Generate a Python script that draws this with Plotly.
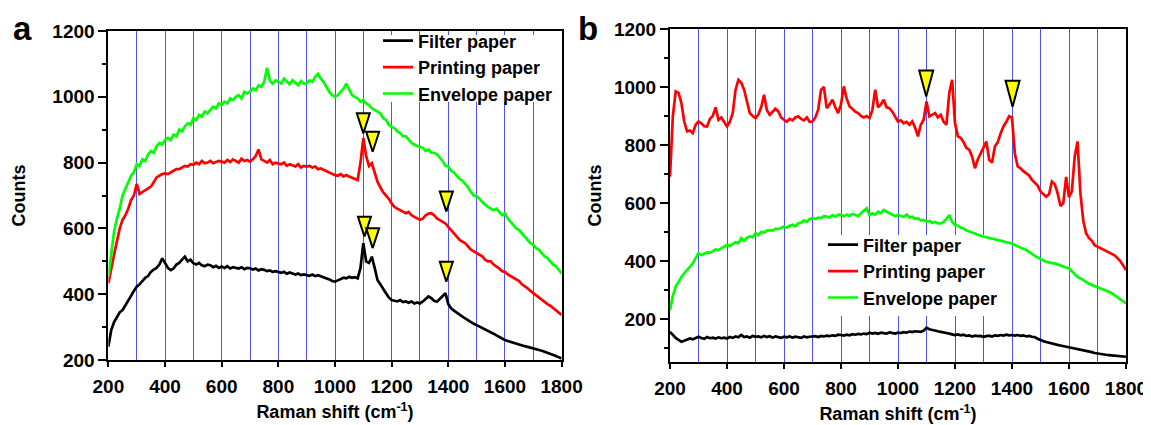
import plotly.graph_objects as go

# The page body has an 8 px margin, so the figure is drawn 8 px in and down.
PAGE_OFF = 8
W, H = 1151 - PAGE_OFF, 425 - PAGE_OFF

# Shared sampling grid (Raman shift, cm^-1) for all spectra
shift = [200,
         210, 220, 230, 240, 250, 260, 270, 280, 290, 300,
         310, 320, 330, 340, 350, 360, 370, 380, 390, 400,
         410, 420, 430, 440, 450, 460, 470, 480, 490, 500,
         510, 520, 530, 540, 550, 560, 570, 580, 590, 600,
         610, 620, 630, 640, 650, 660, 670, 680, 690, 700,
         710, 720, 730, 740, 750, 760, 770, 780, 790, 800,
         810, 820, 830, 840, 850, 860, 870, 880, 890, 900,
         910, 920, 930, 940, 950, 960, 970, 980, 990, 1000,
         1010, 1020, 1030, 1040, 1050, 1060, 1070, 1080, 1090, 1100,
         1110, 1120, 1130, 1140, 1150, 1160, 1170, 1180, 1190, 1200,
         1210, 1220, 1230, 1240, 1250, 1260, 1270, 1280, 1290, 1300,
         1310, 1320, 1330, 1340, 1350, 1360, 1370, 1380, 1390, 1400,
         1410, 1420, 1430, 1440, 1450, 1460, 1470, 1480, 1490, 1500,
         1510, 1520, 1530, 1540, 1550, 1560, 1570, 1580, 1590, 1600,
         1610, 1620, 1630, 1640, 1650, 1660, 1670, 1680, 1690, 1700,
         1710, 1720, 1730, 1740, 1750, 1760, 1770, 1780, 1790, 1800]

# ---------------- Panel a: counts ----------------
a_filter = [241,
            291, 315, 330, 345, 352, 365, 380, 395, 410, 423,
            430, 440, 450, 455, 468, 475, 480, 490, 509, 495,
            480, 473, 478, 490, 495, 505, 514, 500, 505, 494,
            490, 495, 488, 485, 490, 488, 482, 486, 480, 484,
            480, 485, 478, 482, 480, 478, 482, 476, 480, 479,
            475, 478, 472, 476, 474, 470, 472, 468, 470, 468,
            465, 468, 462, 466, 462, 460, 463, 458, 460, 458,
            456, 460, 455, 458, 455, 450, 448, 445, 440, 438,
            442, 445, 450, 448, 453, 450, 452, 448, 480, 555,
            500, 495, 514, 480, 443, 430, 415, 403, 390, 382,
            380, 378, 382, 376, 378, 374, 378, 372, 375, 372,
            378, 385, 393, 388, 380, 377, 385, 392, 403, 370,
            357, 350, 345, 338, 332, 326, 320, 315, 310, 306,
            302, 298, 292, 288, 285, 280, 275, 270, 266, 261,
            258, 255, 252, 250, 248, 245, 242, 240, 238, 236,
            233, 230, 228, 225, 222, 220, 216, 212, 208, 205]

a_print = [433,
           480, 520, 560, 600, 626, 640, 660, 686, 700, 735,
           705, 710, 715, 720, 727, 740, 755, 760, 765, 767,
           765, 770, 775, 780, 780, 785, 790, 788, 795, 793,
           800, 795, 805, 798, 800, 805, 798, 802, 805, 803,
           800, 808, 802, 810, 805, 800, 812, 805, 808, 803,
           810, 820, 840, 810, 805, 800, 808, 795, 800, 798,
           795, 800, 790, 795, 792, 788, 795, 785, 790, 788,
           790, 785, 788, 780, 782, 778, 775, 770, 765, 762,
           760, 765, 758, 762, 758, 755, 750, 747, 800, 874,
           820, 790, 798, 770, 742, 725, 710, 700, 690, 676,
           665, 660, 655, 650, 646, 650, 640, 635, 630, 626,
           630, 640, 645, 646, 640, 630, 625, 620, 615, 605,
           595, 585, 575, 565, 560, 555, 545, 535, 530, 524,
           520, 515, 505, 500, 500, 490, 485, 478, 470, 468,
           460, 455, 450, 445, 440, 430, 425, 418, 410, 403,
           398, 390, 385, 378, 370, 365, 358, 350, 345, 337]

a_env = [453,
         520, 590, 630, 660, 700, 720, 745, 760, 770, 795,
         790, 810, 805, 825, 835, 830, 850, 860, 855, 869,
         875, 868, 885, 880, 900, 895, 910, 920, 915, 935,
         930, 945, 940, 955, 950, 960, 970, 965, 980, 975,
         985, 980, 995, 990, 1000, 1005, 995, 1015, 1010, 1016,
         1025, 1020, 1035, 1030, 1045, 1088, 1050, 1040, 1050, 1046,
         1040, 1055, 1045, 1038, 1050, 1042, 1035, 1048, 1040, 1041,
         1050, 1045, 1060, 1070, 1055, 1045, 1030, 1015, 1005, 1000,
         1005, 1015, 1025, 1040, 1020, 1005, 1000, 995, 985, 990,
         980, 975, 965, 960, 955, 950, 935, 930, 915, 908,
         905, 895, 890, 880, 880, 870, 860, 855, 850, 848,
         845, 835, 840, 830, 830, 825, 815, 805, 790, 788,
         775, 770, 760, 750, 745, 735, 725, 710, 700, 697,
         690, 680, 672, 665, 660, 655, 660, 650, 640, 646,
         630, 620, 610, 600, 595, 585, 575, 565, 555, 550,
         540, 535, 525, 515, 510, 500, 490, 485, 475, 463]

# marker tips (peak indicators)
a_tri_x = [1100, 1133, 1393, 1104, 1133, 1393]
a_tri_y = [889, 833, 651, 575, 540, 438]

# ---------------- Panel b: counts ----------------
b_filter = [156,
            145, 135, 128, 122, 125, 130, 133, 130, 136, 139,
            135, 132, 138, 134, 136, 133, 137, 134, 136, 133,
            138, 135, 140, 137, 145, 138, 140, 136, 142, 139,
            140, 137, 142, 138, 141, 136, 140, 138, 135, 139,
            137, 140, 136, 139, 138, 135, 140, 137, 139, 139,
            141, 138, 142, 140, 143, 141, 144, 142, 146, 145,
            143, 146, 144, 148, 146, 149, 147, 150, 148, 153,
            150, 152, 149, 153, 151, 150, 154, 152, 150, 153,
            152, 155, 153, 157, 155, 158, 156, 156, 160, 170,
            165, 162, 160, 158, 156, 155, 152, 150, 148, 145,
            147, 144, 146, 142, 144, 140, 143, 141, 142, 139,
            141, 143, 140, 144, 142, 145, 143, 146, 144, 145,
            143, 145, 142, 144, 140, 142, 139, 138, 132, 127,
            124, 121, 118, 116, 113, 111, 109, 107, 106, 104,
            101, 99, 96, 94, 92, 90, 88, 86, 83, 81,
            80, 78, 77, 76, 75, 74, 73, 72, 71, 70]

b_print = [691,
           900, 985, 980, 945, 880, 847, 850, 841, 870, 881,
           875, 865, 864, 890, 900, 930, 887, 895, 880, 864,
           880, 910, 990, 1025, 1015, 991, 950, 910, 900, 893,
           905, 930, 973, 920, 904, 915, 925, 916, 895, 887,
           880, 890, 885, 895, 899, 890, 885, 895, 880, 881,
           895, 922, 990, 1000, 927, 940, 956, 930, 910, 940,
           1002, 960, 933, 925, 915, 910, 900, 895, 900, 893,
           920, 991, 930, 940, 956, 930, 927, 915, 900, 881,
           885, 875, 880, 870, 881, 860, 830, 870, 887, 950,
           899, 905, 910, 895, 904, 880, 870, 980, 1025, 876,
           830, 825, 810, 790, 784, 760, 720, 750, 772, 790,
           812, 749, 740, 795, 810, 840, 864, 880, 899, 895,
           770, 726, 720, 710, 703, 695, 680, 668, 660, 640,
           630, 622, 630, 674, 665, 634, 590, 600, 690, 620,
           640, 760, 812, 634, 540, 496, 480, 470, 455, 450,
           445, 440, 435, 430, 427, 420, 410, 400, 385, 369]

b_env = [231,
         280, 312, 330, 345, 358, 370, 380, 392, 410, 427,
         420, 425, 430, 428, 433, 440, 438, 445, 450, 456,
         452, 460, 465, 462, 479, 470, 480, 485, 482, 496,
         490, 500, 498, 505, 507, 505, 512, 510, 515, 519,
         515, 522, 525, 520, 530, 532, 540, 535, 545, 548,
         545, 550, 548, 555, 553, 550, 558, 552, 560, 559,
         555, 560, 556, 562, 559, 555, 565, 575, 582, 559,
         565, 560, 570, 565, 576, 570, 565, 560, 555, 559,
         555, 552, 560, 550, 553, 545, 548, 540, 542, 536,
         538, 532, 535, 530, 530, 535, 545, 559, 535, 525,
         522, 515, 512, 505, 502, 498, 495, 490, 488, 484,
         482, 480, 478, 475, 473, 470, 468, 465, 462, 461,
         455, 450, 447, 442, 438, 430, 425, 418, 412, 409,
         402, 398, 395, 393, 392, 388, 385, 380, 378, 375,
         365, 355, 345, 340, 335, 328, 322, 318, 315, 312,
         308, 302, 298, 294, 289, 282, 275, 268, 260, 254]

b_tri_x = [1099, 1402]
b_tri_y = [967, 932]

series_names = ["Filter paper", "Printing paper", "Envelope paper"]
series_colors = ["#000000", "#ff0000", "#00ff00"]
x_ticks = [200, 400, 600, 800, 1000, 1200, 1400, 1600, 1800]
y_ticks = [200, 400, 600, 800, 1000, 1200]


# ---------------- layout geometry (screen px -> paper) ----------------
def px(v):
    return (v - PAGE_OFF) / W


def py(v):
    return 1 - (v - PAGE_OFF) / H


a_xdom = [px(108.4), px(561.6)]
b_xdom = [px(670.0), px(1126.0)]
a_ydom = [py(360.0), py(31.0)]
b_ydom = [py(362.0), py(29.0)]
x_rng = [200, 1800]
a_yrng = [200, 1200]
b_yrng = [52, 1200]

FONT = "Liberation Sans, Arial, sans-serif"
BLUE = "#4f4fff"

fig = go.Figure()

panels = [
    ("x", "y", "legend", [a_filter, a_print, a_env]),
    ("x2", "y2", "legend2", [b_filter, b_print, b_env]),
]
for xa, ya, lg, data in panels:
    for ys, name, col in zip(data, series_names, series_colors):
        fig.add_trace(go.Scatter(x=shift, y=ys, mode="lines", name=name, legend=lg,
                                 line=dict(color=col, width=2.7), xaxis=xa, yaxis=ya))


def tri_trace(tx, ty, xdom, ydom, yrng, wpx, hpx, xa, ya):
    ppx = (xdom[1] - xdom[0]) * W / (x_rng[1] - x_rng[0])
    ppy = (ydom[1] - ydom[0]) * H / (yrng[1] - yrng[0])
    hw = wpx / 2 / ppx
    hh = hpx / ppy
    xs, ys = [], []
    for x0, y0 in zip(tx, ty):
        xs += [x0, x0 - hw, x0 + hw, x0, None]
        ys += [y0, y0 + hh, y0 + hh, y0, None]
    return go.Scatter(x=xs, y=ys, mode="lines", fill="toself", fillcolor="#ffff00",
                      line=dict(color="#000000", width=2), showlegend=False,
                      hoverinfo="skip", xaxis=xa, yaxis=ya)


fig.add_trace(tri_trace(a_tri_x, a_tri_y, a_xdom, a_ydom, a_yrng, 13, 20, "x", "y"))
fig.add_trace(tri_trace(b_tri_x, b_tri_y, b_xdom, b_ydom, b_yrng, 14, 26, "x2", "y2"))


def backing(xdom, ydom, yrng, sx0, sx1, sy0, sy1, xa, ya):
    """White rectangle (given in screen px) behind a legend, in data coordinates."""
    x_of = lambda s: x_rng[0] + (s - PAGE_OFF - xdom[0] * W) / ((xdom[1] - xdom[0]) * W) * (x_rng[1] - x_rng[0])
    y_of = lambda s: yrng[0] + ((1 - ydom[0]) * H - (s - PAGE_OFF)) / ((ydom[1] - ydom[0]) * H) * (yrng[1] - yrng[0])
    return dict(type="rect", xref=xa, yref=ya, x0=x_of(sx0), x1=x_of(sx1), y0=y_of(sy1), y1=y_of(sy0),
                fillcolor="white", line=dict(width=0), layer="between")


tickfont = dict(family=FONT, size=19, color="black", weight="bold")
titlefont = dict(family=FONT, size=18, color="black", weight="bold")


def xaxis(dom, anchor):
    return dict(domain=dom, anchor=anchor, range=x_rng, tickvals=x_ticks, ticks="outside", ticklen=5,
                tickwidth=2, tickcolor="black", showline=True, linewidth=2, linecolor="black", mirror=True,
                showgrid=True, gridcolor=BLUE, gridwidth=1.2, zeroline=False, automargin=False,
                ticklabelstandoff=3,
                minor=dict(dtick=100, tick0=200, showgrid=True, gridcolor=BLUE, gridwidth=1.2, ticks=""),
                tickfont=tickfont, title=dict(text="Raman shift (cm<sup>-1</sup>)", font=titlefont, standoff=10))


def yaxis(dom, anchor, rng, standoff):
    return dict(domain=dom, anchor=anchor, range=rng, tickvals=y_ticks, ticks="outside", ticklen=8,
                tickwidth=2, tickcolor="black", showline=True, linewidth=2, linecolor="black", mirror=True,
                showgrid=False, zeroline=False, automargin=False,
                minor=dict(dtick=100, tick0=200, ticks="outside", ticklen=4, tickwidth=2, tickcolor="black"),
                tickfont=tickfont, title=dict(text="Counts", font=titlefont, standoff=standoff))


legfont = dict(family=FONT, size=18, color="black", weight="bold")
fig.update_layout(
    width=W, height=H,
    margin=dict(l=0, r=0, t=0, b=0, autoexpand=False),
    paper_bgcolor="white", plot_bgcolor="white",
    showlegend=True,
    xaxis=xaxis(a_xdom, "y"),
    yaxis=yaxis(a_ydom, "x", a_yrng, 22),
    xaxis2=xaxis(b_xdom, "y2"),
    yaxis2=yaxis(b_ydom, "x2", b_yrng, 8),
    legend=dict(x=px(378), y=py(22.5), xanchor="left", yanchor="top", bgcolor="rgba(0,0,0,0)",
                borderwidth=0, font=legfont, tracegroupgap=0),
    legend2=dict(x=px(823), y=py(226.5), xanchor="left", yanchor="top", bgcolor="rgba(0,0,0,0)",
                 borderwidth=0, font=legfont, tracegroupgap=0),
    shapes=[
        backing(a_xdom, a_ydom, a_yrng, 368, 560, 35, 102, "x", "y"),
        backing(b_xdom, b_ydom, b_yrng, 815, 1005, 235, 316, "x2", "y2"),
    ],
    annotations=[
        dict(text="a", x=px(22), y=1, xref="paper", yref="paper", showarrow=False,
             xanchor="center", yanchor="top",
             font=dict(family=FONT, size=33, color="black", weight="bold")),
        dict(text="b", x=px(588), y=1, xref="paper", yref="paper", showarrow=False,
             xanchor="center", yanchor="top",
             font=dict(family=FONT, size=33, color="black", weight="bold")),
    ],
)

fig.write_html("out.html")
